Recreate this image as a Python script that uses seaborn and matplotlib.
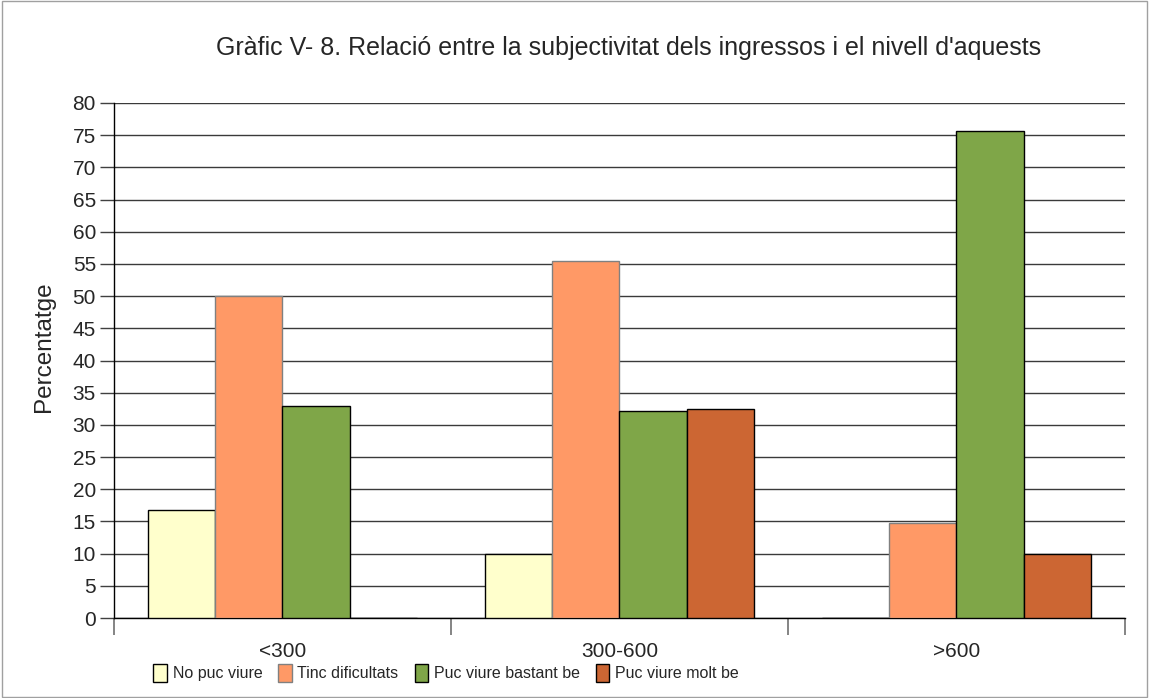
import matplotlib
matplotlib.use("Agg")
import matplotlib.pyplot as plt
import seaborn as sns
import pandas as pd
from matplotlib.patches import Rectangle

# Income bands and subjective income assessment (percentages)
categories = ["<300", "300-600", ">600"]
series = ["No puc viure", "Tinc dificultats", "Puc viure bastant be", "Puc viure molt be"]
no_puc_viure = [16.7, 10.0, 0.0]
tinc_dificultats = [50.0, 55.4, 14.7]
bastant_be = [33.0, 32.2, 75.6]
molt_be = [0.0, 32.5, 9.9]
colors = ["#FFFFCC", "#FF9966", "#7FA648", "#CC6633"]
edges = ["black", "#808080", "black", "black"]

values = [no_puc_viure, tinc_dificultats, bastant_be, molt_be]
df = pd.DataFrame(
    [(cat, s, v[i]) for s, v in zip(series, values) for i, cat in enumerate(categories)],
    columns=["Ingressos", "Subjectivitat", "Percentatge"],
)

sns.set_theme(style="white")
plt.rcParams["font.family"] = ["Liberation Sans", "DejaVu Sans"]

W, H = 1149, 698
fig = plt.figure(figsize=(W / 100, H / 100), dpi=100)
ax = fig.add_axes([114 / W, 1 - 618 / H, (1125 - 114) / W, (618 - 103) / H])

sns.barplot(
    data=df, x="Ingressos", y="Percentatge", hue="Subjectivitat",
    order=categories, hue_order=series, palette=colors, saturation=1,
    width=0.8, gap=0, edgecolor="black", linewidth=1, ax=ax, zorder=3,
)
for container, ec in zip(ax.containers, edges):
    for bar in container:
        bar.set_edgecolor(ec)

ax.set_ylim(0, 80)
ax.set_xlim(-0.5, 2.5)
ax.set_yticks(range(0, 81, 5))
ax.yaxis.grid(True, color="#3a3a3a", linewidth=1, zorder=0)
ax.set_axisbelow(True)
ax.tick_params(axis="y", which="major", left=True, length=10, width=1, color="#404040",
               labelsize=15, pad=3)
ax.tick_params(axis="x", which="major", length=0, labelsize=15, pad=17)
ax.set_xticks([-0.5, 0.5, 1.5, 2.5], minor=True)
ax.tick_params(axis="x", which="minor", bottom=True, length=12, width=1.2, color="#707070")

for side in ("top", "right"):
    ax.spines[side].set_visible(False)
for side in ("left", "bottom"):
    ax.spines[side].set_color("black")
    ax.spines[side].set_linewidth(1)

ax.set_xlabel("")
ax.set_ylabel("Percentatge", fontsize=17.5)
ax.yaxis.set_label_coords((55 - 114) / 1011, (618 - 347) / 515)

fig.text(629 / W, 1 - 48 / H,
         "Gràfic V- 8. Relació entre la subjectivitat dels ingressos i el nivell d'aquests",
         ha="center", va="center", fontsize=18)

ax.get_legend().remove()
handles = [Rectangle((0, 0), 1, 1, facecolor=c, edgecolor=ec, linewidth=1)
           for c, ec in zip(colors, edges)]
fig.legend(handles, series, loc="center", bbox_to_anchor=(446 / W, 1 - 673 / H),
           ncol=4, frameon=False, fontsize=11.5, handlelength=0.85, handleheight=1.35,
           handletextpad=0.35, columnspacing=1.0, borderpad=0, borderaxespad=0)

fig.add_artist(Rectangle((0.002, 0.002), 0.996, 0.996, transform=fig.transFigure,
                         fill=False, edgecolor="#A0A0A0", linewidth=1))

fig.savefig("out.png", dpi=100)
